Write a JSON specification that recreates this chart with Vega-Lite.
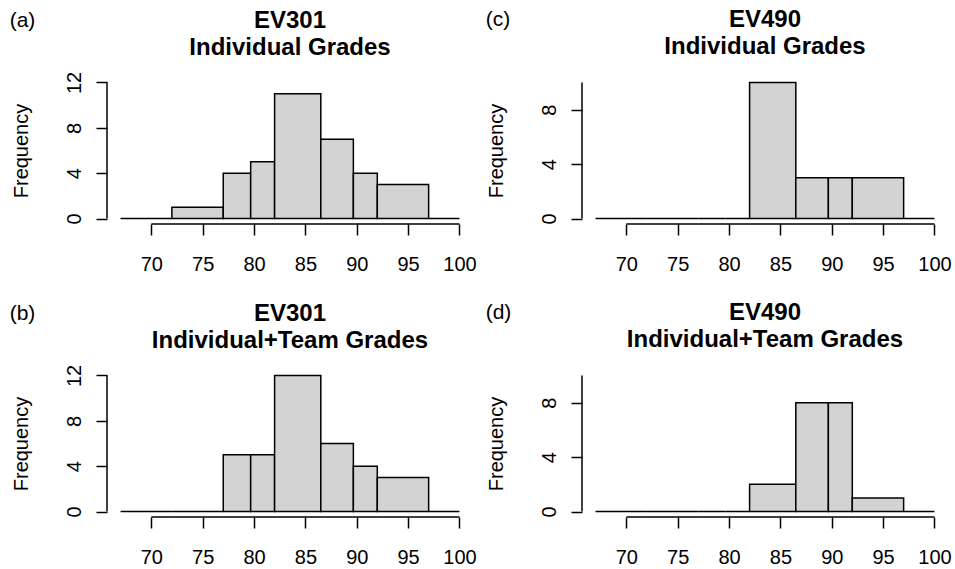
{
  "$schema": "https://vega.github.io/schema/vega-lite/v6.json",
  "autosize": {"type": "pad"},
  "padding": {"left": 9, "top": 8, "right": 0, "bottom": 0},
  "bounds": "flush",
  "spacing": {"row": 146, "column": 109},
  "columns": 2,
  "datasets": {
    "bins": [
      {"panel": "a", "lo": 67, "hi": 72, "count": 0},
      {"panel": "a", "lo": 72, "hi": 77, "count": 1},
      {"panel": "a", "lo": 77, "hi": 79.67, "count": 4},
      {"panel": "a", "lo": 79.67, "hi": 82, "count": 5},
      {"panel": "a", "lo": 82, "hi": 86.5, "count": 11},
      {"panel": "a", "lo": 86.5, "hi": 89.67, "count": 7},
      {"panel": "a", "lo": 89.67, "hi": 92, "count": 4},
      {"panel": "a", "lo": 92, "hi": 97, "count": 3},
      {"panel": "a", "lo": 97, "hi": 100, "count": 0},
      {"panel": "b", "lo": 67, "hi": 72, "count": 0},
      {"panel": "b", "lo": 72, "hi": 77, "count": 0},
      {"panel": "b", "lo": 77, "hi": 79.67, "count": 5},
      {"panel": "b", "lo": 79.67, "hi": 82, "count": 5},
      {"panel": "b", "lo": 82, "hi": 86.5, "count": 12},
      {"panel": "b", "lo": 86.5, "hi": 89.67, "count": 6},
      {"panel": "b", "lo": 89.67, "hi": 92, "count": 4},
      {"panel": "b", "lo": 92, "hi": 97, "count": 3},
      {"panel": "b", "lo": 97, "hi": 100, "count": 0},
      {"panel": "c", "lo": 67, "hi": 72, "count": 0},
      {"panel": "c", "lo": 72, "hi": 77, "count": 0},
      {"panel": "c", "lo": 77, "hi": 79.67, "count": 0},
      {"panel": "c", "lo": 79.67, "hi": 82, "count": 0},
      {"panel": "c", "lo": 82, "hi": 86.5, "count": 10},
      {"panel": "c", "lo": 86.5, "hi": 89.67, "count": 3},
      {"panel": "c", "lo": 89.67, "hi": 92, "count": 3},
      {"panel": "c", "lo": 92, "hi": 97, "count": 3},
      {"panel": "c", "lo": 97, "hi": 100, "count": 0},
      {"panel": "d", "lo": 67, "hi": 72, "count": 0},
      {"panel": "d", "lo": 72, "hi": 77, "count": 0},
      {"panel": "d", "lo": 77, "hi": 79.67, "count": 0},
      {"panel": "d", "lo": 79.67, "hi": 82, "count": 0},
      {"panel": "d", "lo": 82, "hi": 86.5, "count": 2},
      {"panel": "d", "lo": 86.5, "hi": 89.67, "count": 8},
      {"panel": "d", "lo": 89.67, "hi": 92, "count": 8},
      {"panel": "d", "lo": 92, "hi": 97, "count": 1},
      {"panel": "d", "lo": 97, "hi": 100, "count": 0}
    ],
    "tags": [
      {"panel": "a", "tag": "(a)"},
      {"panel": "b", "tag": "(b)"},
      {"panel": "c", "tag": "(c)"},
      {"panel": "d", "tag": "(d)"}
    ]
  },
  "concat": [
    {
      "title": {"text": ["EV301", "Individual Grades"]},
      "width": 366, "height": 147,
      "layer": [
        {
          "data": {"name": "bins"},
          "transform": [{"filter": "datum.panel === 'a'"}],
          "mark": {"type": "rect", "fill": "#D3D3D3", "stroke": "black", "strokeWidth": 1.5},
          "encoding": {
            "x": {"field": "lo", "type": "quantitative", "scale": {"domain": [65.68, 101.32], "nice": false, "zero": false},
                  "axis": {"title": null, "values": [70, 75, 80, 85, 90, 95, 100]}},
            "x2": {"field": "hi"},
            "y": {"field": "count", "type": "quantitative", "scale": {"domain": [-0.48, 12.48], "nice": false, "zero": false},
                  "axis": {"title": "Frequency", "values": [0, 2, 4, 6, 8, 10, 12], "labelExpr": "datum.value % 4 === 0 ? datum.label : ''"}},
            "y2": {"datum": 0}
          }
        },
        {
          "data": {"values": [{}]},
          "mark": {"type": "rule", "stroke": "black", "strokeWidth": 1.5},
          "encoding": {
            "x": {"datum": 70, "type": "quantitative", "scale": {"domain": [65.68, 101.32], "nice": false, "zero": false}},
            "x2": {"datum": 100},
            "y": {"datum": -0.48, "type": "quantitative", "scale": {"domain": [-0.48, 12.48], "nice": false, "zero": false}}
          }
        },
        {
          "data": {"values": [{}]},
          "mark": {"type": "rule", "stroke": "black", "strokeWidth": 1.5},
          "encoding": {
            "x": {"datum": 65.68, "type": "quantitative", "scale": {"domain": [65.68, 101.32], "nice": false, "zero": false}},
            "y": {"datum": 0, "type": "quantitative", "scale": {"domain": [-0.48, 12.48], "nice": false, "zero": false}},
            "y2": {"datum": 12}
          }
        },
        {
          "data": {"name": "tags"},
          "transform": [{"filter": "datum.panel === 'a'"}],
          "mark": {"type": "text", "align": "left", "baseline": "alphabetic", "fontSize": 21, "font": "Liberation Sans", "color": "black"},
          "encoding": {
            "text": {"field": "tag"},
            "x": {"datum": 56.2, "type": "quantitative", "scale": {"domain": [65.68, 101.32], "nice": false, "zero": false}},
            "y": {"datum": 16.92, "type": "quantitative", "scale": {"domain": [-0.48, 12.48], "nice": false, "zero": false}}
          }
        }
      ]
    },
    {
      "title": {"text": ["EV490", "Individual Grades"]},
      "width": 366, "height": 147,
      "layer": [
        {
          "data": {"name": "bins"},
          "transform": [{"filter": "datum.panel === 'c'"}],
          "mark": {"type": "rect", "fill": "#D3D3D3", "stroke": "black", "strokeWidth": 1.5},
          "encoding": {
            "x": {"field": "lo", "type": "quantitative", "scale": {"domain": [65.68, 101.32], "nice": false, "zero": false},
                  "axis": {"title": null, "values": [70, 75, 80, 85, 90, 95, 100]}},
            "x2": {"field": "hi"},
            "y": {"field": "count", "type": "quantitative", "scale": {"domain": [-0.4, 10.4], "nice": false, "zero": false},
                  "axis": {"title": "Frequency", "values": [0, 2, 4, 6, 8, 10], "labelExpr": "datum.value % 4 === 0 ? datum.label : ''"}},
            "y2": {"datum": 0}
          }
        },
        {
          "data": {"values": [{}]},
          "mark": {"type": "rule", "stroke": "black", "strokeWidth": 1.5},
          "encoding": {
            "x": {"datum": 70, "type": "quantitative", "scale": {"domain": [65.68, 101.32], "nice": false, "zero": false}},
            "x2": {"datum": 100},
            "y": {"datum": -0.4, "type": "quantitative", "scale": {"domain": [-0.4, 10.4], "nice": false, "zero": false}}
          }
        },
        {
          "data": {"values": [{}]},
          "mark": {"type": "rule", "stroke": "black", "strokeWidth": 1.5},
          "encoding": {
            "x": {"datum": 65.68, "type": "quantitative", "scale": {"domain": [65.68, 101.32], "nice": false, "zero": false}},
            "y": {"datum": 0, "type": "quantitative", "scale": {"domain": [-0.4, 10.4], "nice": false, "zero": false}},
            "y2": {"datum": 10}
          }
        },
        {
          "data": {"name": "tags"},
          "transform": [{"filter": "datum.panel === 'c'"}],
          "mark": {"type": "text", "align": "left", "baseline": "alphabetic", "fontSize": 21, "font": "Liberation Sans", "color": "black"},
          "encoding": {
            "text": {"field": "tag"},
            "x": {"datum": 56.3, "type": "quantitative", "scale": {"domain": [65.68, 101.32], "nice": false, "zero": false}},
            "y": {"datum": 14.14, "type": "quantitative", "scale": {"domain": [-0.4, 10.4], "nice": false, "zero": false}}
          }
        }
      ]
    },
    {
      "title": {"text": ["EV301", "Individual+Team Grades"]},
      "width": 366, "height": 147,
      "layer": [
        {
          "data": {"name": "bins"},
          "transform": [{"filter": "datum.panel === 'b'"}],
          "mark": {"type": "rect", "fill": "#D3D3D3", "stroke": "black", "strokeWidth": 1.5},
          "encoding": {
            "x": {"field": "lo", "type": "quantitative", "scale": {"domain": [65.68, 101.32], "nice": false, "zero": false},
                  "axis": {"title": null, "values": [70, 75, 80, 85, 90, 95, 100]}},
            "x2": {"field": "hi"},
            "y": {"field": "count", "type": "quantitative", "scale": {"domain": [-0.48, 12.48], "nice": false, "zero": false},
                  "axis": {"title": "Frequency", "values": [0, 2, 4, 6, 8, 10, 12], "labelExpr": "datum.value % 4 === 0 ? datum.label : ''"}},
            "y2": {"datum": 0}
          }
        },
        {
          "data": {"values": [{}]},
          "mark": {"type": "rule", "stroke": "black", "strokeWidth": 1.5},
          "encoding": {
            "x": {"datum": 70, "type": "quantitative", "scale": {"domain": [65.68, 101.32], "nice": false, "zero": false}},
            "x2": {"datum": 100},
            "y": {"datum": -0.48, "type": "quantitative", "scale": {"domain": [-0.48, 12.48], "nice": false, "zero": false}}
          }
        },
        {
          "data": {"values": [{}]},
          "mark": {"type": "rule", "stroke": "black", "strokeWidth": 1.5},
          "encoding": {
            "x": {"datum": 65.68, "type": "quantitative", "scale": {"domain": [65.68, 101.32], "nice": false, "zero": false}},
            "y": {"datum": 0, "type": "quantitative", "scale": {"domain": [-0.48, 12.48], "nice": false, "zero": false}},
            "y2": {"datum": 12}
          }
        },
        {
          "data": {"name": "tags"},
          "transform": [{"filter": "datum.panel === 'b'"}],
          "mark": {"type": "text", "align": "left", "baseline": "alphabetic", "fontSize": 21, "font": "Liberation Sans", "color": "black"},
          "encoding": {
            "text": {"field": "tag"},
            "x": {"datum": 56.2, "type": "quantitative", "scale": {"domain": [65.68, 101.32], "nice": false, "zero": false}},
            "y": {"datum": 16.92, "type": "quantitative", "scale": {"domain": [-0.48, 12.48], "nice": false, "zero": false}}
          }
        }
      ]
    },
    {
      "title": {"text": ["EV490", "Individual+Team Grades"]},
      "width": 366, "height": 147,
      "layer": [
        {
          "data": {"name": "bins"},
          "transform": [{"filter": "datum.panel === 'd'"}],
          "mark": {"type": "rect", "fill": "#D3D3D3", "stroke": "black", "strokeWidth": 1.5},
          "encoding": {
            "x": {"field": "lo", "type": "quantitative", "scale": {"domain": [65.68, 101.32], "nice": false, "zero": false},
                  "axis": {"title": null, "values": [70, 75, 80, 85, 90, 95, 100]}},
            "x2": {"field": "hi"},
            "y": {"field": "count", "type": "quantitative", "scale": {"domain": [-0.4, 10.4], "nice": false, "zero": false},
                  "axis": {"title": "Frequency", "values": [0, 2, 4, 6, 8, 10], "labelExpr": "datum.value % 4 === 0 ? datum.label : ''"}},
            "y2": {"datum": 0}
          }
        },
        {
          "data": {"values": [{}]},
          "mark": {"type": "rule", "stroke": "black", "strokeWidth": 1.5},
          "encoding": {
            "x": {"datum": 70, "type": "quantitative", "scale": {"domain": [65.68, 101.32], "nice": false, "zero": false}},
            "x2": {"datum": 100},
            "y": {"datum": -0.4, "type": "quantitative", "scale": {"domain": [-0.4, 10.4], "nice": false, "zero": false}}
          }
        },
        {
          "data": {"values": [{}]},
          "mark": {"type": "rule", "stroke": "black", "strokeWidth": 1.5},
          "encoding": {
            "x": {"datum": 65.68, "type": "quantitative", "scale": {"domain": [65.68, 101.32], "nice": false, "zero": false}},
            "y": {"datum": 0, "type": "quantitative", "scale": {"domain": [-0.4, 10.4], "nice": false, "zero": false}},
            "y2": {"datum": 10}
          }
        },
        {
          "data": {"name": "tags"},
          "transform": [{"filter": "datum.panel === 'd'"}],
          "mark": {"type": "text", "align": "left", "baseline": "alphabetic", "fontSize": 21, "font": "Liberation Sans", "color": "black"},
          "encoding": {
            "text": {"field": "tag"},
            "x": {"datum": 56.3, "type": "quantitative", "scale": {"domain": [65.68, 101.32], "nice": false, "zero": false}},
            "y": {"datum": 14.14, "type": "quantitative", "scale": {"domain": [-0.4, 10.4], "nice": false, "zero": false}}
          }
        }
      ]
    }
  ],
  "config": {
    "font": "Liberation Sans",
    "background": "white",
    "view": {"stroke": null},
    "title": {"font": "Liberation Sans", "fontSize": 24, "fontWeight": "bold", "color": "black", "anchor": "middle", "frame": "group", "lineHeight": 27, "baseline": "bottom", "offset": -50},
    "axis": {
      "domain": false, "grid": false, "ticks": true,
      "tickColor": "black", "tickWidth": 1.5, "tickSize": 11,
      "labelFont": "Liberation Sans", "labelFontSize": 20, "labelColor": "black",
      "labelOverlap": false, "labelFlush": false, "labelBound": false,
      "titleFont": "Liberation Sans", "titleFontSize": 20, "titleFontWeight": "normal", "titleColor": "black"
    },
    "axisX": {"labelPadding": 19},
    "axisY": {"labelAngle": -90, "labelAlign": "center", "labelBaseline": "alphabetic", "labelPadding": 16, "titlePadding": 33}
  }
}
